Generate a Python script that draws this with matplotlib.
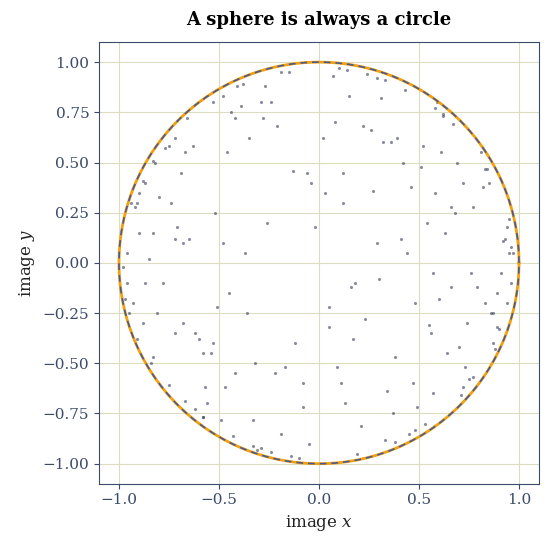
import numpy as np
import matplotlib
matplotlib.use("Agg")
import matplotlib.pyplot as plt

title = "A sphere is always a circle"
pts_x = [0.12,-0.35,0.55,-0.72,0.81,-0.91,0.95,-0.97,0.33,-0.15,0.62,-0.58,0.44,-0.83,0.88,0.05,-0.45,0.71,-0.66,0.27,
         -0.22,0.91,-0.88,0.15,0.52,-0.31,0.77,-0.75,0.02,0.38,-0.52,0.66,-0.94,0.94,-0.08,0.23,-0.62,0.84,-0.41,0.59,
         0.96,-0.96,0.9,-0.9,0.58,-0.58,0.77,-0.77,0.29,-0.29,0.43,-0.43,0.67,-0.67,0.1,-0.1,0.19,-0.19,0.83,-0.83,
         0.48,-0.48,0.72,-0.72,0.33,-0.33,0.87,-0.87,0.62,-0.62,0.53,-0.53,0.24,-0.24,0.38,-0.38,0.14,-0.14,0.75,-0.75,
         0.12,-0.12,0.48,-0.48,0.68,-0.68,0.32,-0.32,0.83,-0.83,0.96,-0.96,0.58,-0.58,0.08,-0.08,0.42,-0.42,0.72,-0.72,
         0.18,0.63,-0.37,-0.81,0.29,0.47,-0.67,0.89,-0.04,0.57,-0.26,0.74,-0.53,0.36,-0.87,0.13,0.69,-0.44,0.94,-0.19,
         -0.05,0.07,0.21,-0.28,0.34,-0.46,0.51,-0.6,0.66,-0.71,0.79,-0.85,0.92,-0.93,0.03,-0.17,0.26,-0.39,0.45,-0.56,
         0.61,-0.69,0.73,-0.8,0.86,-0.9,0.97,-0.98,0.11,-0.24,0.31,-0.42,0.49,-0.57,0.64,-0.74,0.82,-0.84,0.89,-0.92,
         0.05,-0.13,0.22,-0.33,0.41,-0.51,0.57,-0.63,0.7,-0.78,0.85,-0.88,0.93,-0.95,0.16,-0.27,0.37,-0.47,0.54,-0.65,
         -0.02,0.09,-0.21,0.3,-0.36,0.46,-0.54,0.6,-0.68,0.76,-0.82,0.87,-0.91,0.95,-0.06,0.17,-0.29,0.39,-0.49,0.56]
pts_y = [0.45,0.62,-0.31,0.12,0.55,-0.38,0.22,-0.18,-0.88,0.95,0.74,-0.77,0.05,0.51,-0.43,-0.22,-0.15,-0.66,0.72,0.36,
         -0.55,-0.05,0.41,0.83,0.58,-0.93,0.28,-0.61,0.62,-0.47,0.25,-0.12,0.3,0.18,-0.72,-0.28,-0.35,0.47,0.88,0.8,
         0.08,-0.1,-0.33,0.35,0.77,-0.77,-0.57,0.57,0.92,-0.92,0.86,-0.86,0.69,-0.69,0.97,-0.97,-0.95,0.95,0.47,-0.47,
         -0.83,0.83,-0.62,0.62,0.91,-0.91,-0.4,0.4,0.73,-0.73,-0.8,0.8,0.94,-0.94,-0.89,0.89,0.96,-0.96,-0.58,0.58,
         0.3,-0.4,-0.2,0.1,0.25,-0.3,0.6,-0.5,-0.2,0.15,-0.1,0.05,0.35,-0.45,0.7,-0.6,0.5,-0.55,0.4,-0.35,
         -0.1,0.15,0.05,-0.25,0.1,-0.6,0.55,-0.15,0.4,-0.05,0.2,-0.3,-0.4,0.6,-0.1,-0.7,0.5,0.75,-0.2,-0.85,
         -0.9,0.93,-0.81,0.72,-0.64,0.55,0.48,-0.38,0.28,0.18,-0.12,0.02,0.11,-0.2,0.35,-0.52,0.66,0.78,-0.85,-0.7,
         0.55,0.45,-0.52,0.33,-0.25,0.15,0.05,-0.02,-0.6,0.8,0.82,0.72,-0.72,-0.62,-0.45,0.3,0.38,-0.5,-0.32,0.28,
         -0.32,0.46,0.68,-0.78,0.12,-0.22,-0.65,0.58,-0.42,-0.1,0.4,-0.3,0.12,-0.25,-0.12,0.88,-0.75,-0.62,0.2,0.12,
         0.18,-0.52,0.68,-0.08,-0.25,0.38,-0.45,-0.18,0.1,-0.05,0.5,-0.25,0.3,0.05,0.45,-0.38,0.8,0.62,-0.78,-0.35]

plt.rcParams['font.family'] = ['DejaVu Serif']
plt.rcParams['mathtext.fontset'] = 'dejavuserif'
fig = plt.figure(figsize=(5.5, 5.46), dpi=100)
ax = fig.add_axes([0.18, 0.114, 0.8, 0.809])
navy = '#3b4a6b'
ax.scatter(pts_x, pts_y, s=5, color='#3a4060', alpha=0.6, lw=0, zorder=3)
t = np.linspace(0, 2*np.pi, 400)
ax.plot(np.cos(t), np.sin(t), color='#f0a010', lw=2, zorder=4)
ax.plot(np.cos(t), np.sin(t), color='#4a5a90', lw=1.2, ls=(0, (4, 3)), zorder=5)
ax.set_xlim(-1.1, 1.1); ax.set_ylim(-1.1, 1.1)
ax.set_xticks([-1.0,-0.5,0,0.5,1.0])
ax.set_yticks(np.arange(-1.0,1.01,0.25))
ax.grid(color='#dcdcc0', lw=0.8, zorder=0)
for s in ax.spines.values():
    s.set_color(navy)
ax.tick_params(colors=navy, labelsize=11)
for l in ax.get_xticklabels()+ax.get_yticklabels():
    l.set_color(navy)
ax.set_xlabel('image $x$', fontsize=12, color='#222')
ax.set_ylabel('image $y$', fontsize=12, color='#222')
ax.set_title(title, fontsize=13, fontweight='bold', pad=12)
fig.savefig('out.png')
